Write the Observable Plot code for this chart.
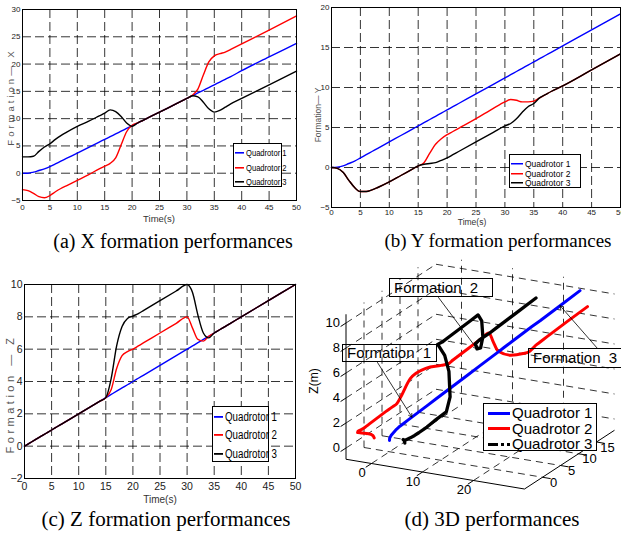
<!DOCTYPE html>
<html><head><meta charset="utf-8">
<script src="https://cdn.jsdelivr.net/npm/d3@7"></script>
<script src="https://cdn.jsdelivr.net/npm/@observablehq/plot@0.6"></script>
<style>
body{margin:0;background:#fff;}
#page{position:relative;width:621px;height:533px;overflow:hidden;background:#fff;font-family:"Liberation Sans",Arial,sans-serif;}
.panel{position:absolute;}
.cap{position:absolute;font-family:"Liberation Serif","Times New Roman",serif;color:#000;white-space:nowrap;transform:translate(-50%,-50%);}
.lbl{position:absolute;white-space:nowrap;transform:translate(-50%,-50%);color:#444;}
.rot{transform:translate(-50%,-50%) rotate(-90deg);}
.leg{position:absolute;border:1px solid #000;background:#fff;box-sizing:border-box;}
.leg .row{position:absolute;left:0;white-space:nowrap;transform:translateY(-50%);line-height:1;}
.narrow{font-family:"Liberation Sans Narrow","Arial Narrow","Liberation Sans",sans-serif;}
</style>
</head><body><div id="page"></div>
<script>
// ---------------- data ----------------
const T = [0,1,2,3,4,5,6,7,8,10,12,14,15,16,17,18,19,20,21,22,25,28,30,31,32,33,34,35,36,37,38,40,45,50];

const q1X = [0,0,0.2,0.5,0.8,1.2,1.7,2.2,2.7,3.7,4.7,5.7,6.2,6.7,7.2,7.7,8.2,8.7,9.2,9.7,11.2,12.7,13.7,14.2,14.7,15.2,15.7,16.2,16.7,17.2,17.7,18.8,21.3,23.8];
const q2X = [-3,-3.2,-3.7,-4.3,-4.5,-4.1,-3.4,-2.8,-2.3,-1.3,-0.3,0.8,1.3,1.8,2.8,5.2,7.6,8.8,9.2,9.7,11.2,12.7,13.7,14.3,15.4,18.0,20.4,21.5,21.9,22.2,22.7,23.7,26.2,28.8];
const q3X = [3,3,3.1,4.0,4.8,5.4,6.2,6.9,7.5,8.6,9.5,10.5,11.0,11.6,11.3,10.4,9.2,8.6,9.2,9.7,11.2,12.7,13.7,14.2,14.0,13.0,11.8,11.2,11.5,12.1,12.7,13.7,16.2,18.7];

const q1Y = [0,0.05,0.2,0.5,0.8,1.2,1.6,2.0,2.4,3.2,4.0,4.8,5.2,5.6,6.0,6.4,6.8,7.2,7.6,8.0,9.2,10.4,11.2,11.6,12.0,12.4,12.8,13.2,13.6,14.0,14.4,15.2,17.2,19.2];
const q2Y = [0,-0.1,-0.6,-1.6,-2.5,-3.0,-3.0,-2.8,-2.5,-1.8,-1.0,-0.2,0.2,0.6,1.8,2.9,3.6,4.1,4.5,4.9,6.1,7.4,8.2,8.5,8.4,8.2,8.2,8.3,8.7,9.1,9.5,10.2,12.2,14.2];
const q3Y = [0,-0.1,-0.6,-1.6,-2.5,-3.0,-3.0,-2.8,-2.5,-1.8,-1.0,-0.2,0.2,0.4,0.5,0.6,0.9,1.2,1.6,2.0,3.2,4.4,5.2,5.5,6.1,6.9,7.6,8.0,8.7,9.1,9.5,10.2,12.2,14.2];

const q1Z = [0,0.2,0.4,0.6,0.8,1.0,1.2,1.4,1.6,2.0,2.4,2.8,3.0,3.2,3.4,3.6,3.8,4.0,4.2,4.4,5.0,5.6,6.0,6.2,6.4,6.6,6.8,7.0,7.2,7.4,7.6,8.0,9.0,10.0];
const q2Z = [0,0.2,0.4,0.6,0.8,1.0,1.2,1.4,1.6,2.0,2.4,2.8,3.0,3.5,4.8,5.6,5.85,6.0,6.2,6.4,7.0,7.6,8.0,7.3,6.6,6.5,6.8,7.0,7.2,7.4,7.6,8.0,9.0,10.0];
const q3Z = [0,0.2,0.4,0.6,0.8,1.0,1.2,1.4,1.6,2.0,2.4,2.8,3.0,4.2,6.2,7.4,7.9,8.05,8.2,8.4,9.0,9.6,10.0,9.5,8.1,7.0,6.7,7.0,7.2,7.4,7.6,8.0,9.0,10.0];

const seriesNames = ["Quadrotor 1","Quadrotor 2","Quadrotor 3"];
const seriesColors = ["#0000ff","#ff0000","#000000"];

const timeTicks = [0,5,10,15,20,25,30,35,40,45,50];
const xFormTicks = [-5,0,5,10,15,20,25,30];
const yFormTicks = [-5,0,5,10,15,20];
const zFormTicks = [-2,0,2,4,6,8,10];

const x3Ticks = [0,10,20];
const y3Ticks = [0,5,10,15];
const z3Ticks = [0,2,4,6,8,10];

const annotations = [
  {label:"Formation  1", series:0, t:8},
  {label:"Formation  2", series:2, t:34},
  {label:"Formation  3", series:0, t:45}
];

const captions = ["(a) X formation performances","(b) Y formation performances","(c) Z formation performances","(d) 3D performances"];

// ---------------- helpers ----------------
const page = document.getElementById("page");
function addDiv(cls, css, html){
  const d=document.createElement("div"); d.className=cls; d.style.cssText=css; if(html!==undefined) d.textContent=html; page.appendChild(d); return d;
}

function linePanel(o){
  const sers=[o.s[0],o.s[1],o.s[2]];
  const grid = {stroke:"#000", strokeWidth:0.8, strokeDasharray:"9,4"};
  const marks=[
    Plot.ruleX(timeTicks.filter(v=>v>0&&v<50), grid),
    Plot.ruleY(o.yTicks.filter(v=>v>o.yDomain[0]&&v<o.yDomain[1]), grid),
    ...sers.map((vals,k)=>Plot.line(T.map((t,i)=>({t, v:vals[i]})), {x:"t", y:"v", stroke:seriesColors[k], strokeWidth:1.4, curve:"monotone-x"})),
    Plot.frame({stroke:"#000", strokeWidth:1})
  ];
  const svg = Plot.plot({
    width:o.width, height:o.height,
    marginLeft:o.ml, marginRight:o.mr, marginTop:o.mt, marginBottom:o.mb,
    x:{domain:[0,50], ticks:timeTicks, tickSize:0, tickPadding:o.xpad, label:null},
    y:{domain:o.yDomain, ticks:o.yTicks, tickSize:0, tickPadding:o.ypad, label:null},
    style:{fontSize:o.fs+"px", fontFamily:o.ff, color:"#222", background:"transparent", overflow:"hidden"},
    marks
  });
  const d=addDiv("panel", `left:${o.left}px;top:${o.top}px;`);
  d.appendChild(svg);
}

function legend(o){
  const d=addDiv("leg", `left:${o.left}px;top:${o.top}px;width:${o.w}px;height:${o.h}px;`);
  seriesNames.forEach((name,k)=>{
    const r=document.createElement("div"); r.className="row";
    r.style.top=o.rows[k]+"px";
    const lw=o.lineW, lx=o.lineLen;
    const dash = (o.dash3 && k===2) ? `stroke-dasharray="${o.dash3}"` : "";
    r.innerHTML = `<svg width="${lx+2}" height="${lw+4}" style="vertical-align:middle;margin-left:${o.pad}px"><line x1="0" x2="${lx}" y1="${(lw+4)/2}" y2="${(lw+4)/2}" stroke="${seriesColors[k]}" stroke-width="${lw}" ${dash}/></svg><span class="${o.narrow?'narrow':''}" style="display:inline-block;vertical-align:middle;font-size:${o.fs}px;transform:scaleX(${o.sx});transform-origin:left center;">${name}</span>`;
    d.appendChild(r);
  });
}

// ---------------- panel (a) ----------------
linePanel({left:0, top:0, width:310, height:228, ml:22, mr:14, mt:9, mb:28, yDomain:[-5,30], yTicks:xFormTicks, s:[q1X,q2X,q3X], fs:8, ff:"'Liberation Sans Narrow','Liberation Sans',sans-serif", xpad:4, ypad:2});
legend({left:233, top:143, w:49, h:44, rows:[8,23,37], lineW:1.6, lineLen:9, pad:1, fs:9.5, sx:0.8, narrow:true});
addDiv("lbl rot", "left:10px;top:97px;font-size:9.5px;letter-spacing:3px;color:#555;", "Formation— X");
addDiv("lbl narrow", "left:159px;top:218px;font-size:9.5px;color:#333;", "Time(s)");

// ---------------- panel (b) ----------------
linePanel({left:310, top:0, width:311, height:228, ml:21, mr:1, mt:7, mb:21, yDomain:[-5,20], yTicks:yFormTicks, s:[q1Y,q2Y,q3Y], fs:8, ff:"'Liberation Sans',sans-serif", xpad:2, ypad:2});
legend({left:509, top:154, w:72, h:34, rows:[8,18,27], lineW:1.5, lineLen:12, pad:1, fs:8.5, sx:1, narrow:false});
addDiv("lbl rot", "left:318px;top:115px;font-size:8.5px;color:#555;", "Formation— Y");
addDiv("lbl", "left:472px;top:222px;font-size:8.5px;color:#333;", "Time(s)");

// ---------------- panel (c) ----------------
linePanel({left:0, top:260, width:310, height:240, ml:24, mr:15, mt:24, mb:22, yDomain:[-2,10], yTicks:zFormTicks, s:[q1Z,q2Z,q3Z], fs:10.5, ff:"'Liberation Sans Narrow','Liberation Sans',sans-serif", xpad:4, ypad:2});
legend({left:212, top:406, w:57, h:56, rows:[9,27,46], lineW:1.8, lineLen:9, pad:1, fs:12.5, sx:0.78, narrow:true});
addDiv("lbl rot", "left:10px;top:394px;font-size:11px;letter-spacing:3.5px;color:#555;", "Formation — Z");
addDiv("lbl narrow", "left:160px;top:499px;font-size:10px;color:#333;", "Time(s)");

// ---------------- panel (d) 3D ----------------
(function(){
  const L=310, TP=255, W=311, H=245;
  const ORG=[389-L, 440-TP], EX=[5.1,0.85], EY=[3.6,-2.35], EZ=[0,-12.5];
  const XR=[-5,30], YR=[-5,20], ZR=[-0.9,10.7];
  const proj=(x,y,z)=>[ORG[0]+x*EX[0]+y*EY[0]+z*EZ[0], ORG[1]+x*EX[1]+y*EY[1]+z*EZ[1]];
  const seg=(a,b)=>{const p=proj(...a), q=proj(...b); return {x1:p[0],y1:p[1],x2:q[0],y2:q[1]};};
  const grid=[];
  x3Ticks.forEach(x=>{grid.push(seg([x,YR[0],ZR[0]],[x,YR[1],ZR[0]])); grid.push(seg([x,YR[1],ZR[0]],[x,YR[1],ZR[1]]));});
  y3Ticks.forEach(y=>{grid.push(seg([XR[0],y,ZR[0]],[XR[1],y,ZR[0]])); grid.push(seg([XR[0],y,ZR[0]],[XR[0],y,ZR[1]]));});
  z3Ticks.forEach(z=>{grid.push(seg([XR[0],YR[0],z],[XR[0],YR[1],z])); grid.push(seg([XR[0],YR[1],z],[XR[1],YR[1],z]));});
  const axes=[seg([XR[0],YR[0],ZR[0]],[XR[0],YR[0],ZR[1]]), seg([XR[0],YR[0],ZR[0]],[XR[1],YR[0],ZR[0]]), seg([XR[1],YR[0],ZR[0]],[XR[1],YR[1],ZR[0]])];
  const ticks=[
    ...x3Ticks.map(x=>seg([x,YR[0],ZR[0]],[x,YR[0]-1.6,ZR[0]])),
    ...y3Ticks.map(y=>seg([XR[1],y,ZR[0]],[XR[1]+1.6,y,ZR[0]])),
    ...z3Ticks.map(z=>seg([XR[0],YR[0],z],[XR[0],YR[0]-1.5,z]))
  ];
  const xl=x3Ticks.map(x=>{const p=proj(x,YR[0],ZR[0]); return {x:p[0],y:p[1],t:String(x)};});
  const yl=y3Ticks.map(y=>{const p=proj(XR[1],y,ZR[0]); return {x:p[0],y:p[1],t:String(y)};});
  const zl=z3Ticks.map(z=>{const p=proj(XR[0],YR[0],z); return {x:p[0],y:p[1],t:String(z)};});
  const S=[[q1X,q1Y,q1Z],[q2X,q2Y,q2Z],[q3X,q3Y,q3Z]];
  const traj=S.map(s=>T.map((t,i)=>{const p=proj(s[0][i],s[1][i],s[2][i]); return {px:p[0],py:p[1]};}));
  const arrowStarts=[[377-L,362-TP],[438-L,297-TP],[597-L,348-TP]];
  const arrows=annotations.map((a,k)=>{const i=T.indexOf(a.t); const s=S[a.series]; const p=proj(s[0][i],s[1][i],s[2][i]); return {x1:arrowStarts[k][0],y1:arrowStarts[k][1],x2:p[0],y2:p[1]};});
  const svg=Plot.plot({
    width:W, height:H, margin:0,
    x:{domain:[0,W], range:[0,W], axis:null},
    y:{domain:[0,H], range:[0,H], axis:null},
    style:{fontFamily:"'Liberation Sans',Arial,sans-serif", fontSize:"13px", color:"#000", background:"transparent", overflow:"hidden"},
    marks:[
      Plot.link(grid,{x1:"x1",y1:"y1",x2:"x2",y2:"y2",stroke:"#000",strokeWidth:0.8,strokeDasharray:"7,5"}),
      Plot.link(axes,{x1:"x1",y1:"y1",x2:"x2",y2:"y2",stroke:"#000",strokeWidth:1}),
      Plot.link(ticks,{x1:"x1",y1:"y1",x2:"x2",y2:"y2",stroke:"#000",strokeWidth:1}),
      Plot.text(xl,{x:"x",y:"y",text:"t",dx:-9.5,dy:9.5,fontSize:13}),
      Plot.text(yl,{x:"x",y:"y",text:"t",dx:11,dy:5.5,fontSize:13}),
      Plot.text(zl,{x:"x",y:"y",text:"t",dx:-6,dy:0,textAnchor:"end",fontSize:13}),
      Plot.line(traj[1],{x:"px",y:"py",stroke:seriesColors[1],strokeWidth:3,curve:"monotone-x"}),
      Plot.line(traj[0],{x:"px",y:"py",stroke:seriesColors[0],strokeWidth:3}),
      Plot.line(traj[2],{x:"px",y:"py",stroke:seriesColors[2],strokeWidth:3.3}),
      Plot.arrow(arrows,{x1:"x1",y1:"y1",x2:"x2",y2:"y2",stroke:"#000",strokeWidth:0.8,headLength:7})
    ]
  });
  addDiv("panel", `left:${L}px;top:${TP}px;`).appendChild(svg);
  const boxes=[[342,344,95,18],[389,278,104,19],[528,348,100,20]];
  annotations.forEach((a,k)=>{
    const b=boxes[k];
    addDiv("", `position:absolute;left:${b[0]}px;top:${b[1]}px;width:${b[2]}px;height:${b[3]}px;border:1px solid #000;box-sizing:border-box;font-size:15px;line-height:${b[3]-2}px;padding-left:4px;white-space:pre;color:#000;`, a.label);
  });
  legend({left:483, top:403, w:114, h:48, rows:[8.5,24,39.5], lineW:3, lineLen:22, pad:4, fs:14.5, sx:1.04, narrow:false, dash3:"10,3,3,3"});
  addDiv("lbl rot", "left:314px;top:381px;font-size:12px;color:#000;", "Z(m)");
})();

// ---------------- captions ----------------
addDiv("cap", "left:173px;top:241px;font-size:20px;", captions[0]);
addDiv("cap", "left:498px;top:241px;font-size:19px;", captions[1]);
addDiv("cap", "left:166px;top:519px;font-size:21px;", captions[2]);
addDiv("cap", "left:492px;top:519px;font-size:21px;", captions[3]);
</script>
</body></html>
